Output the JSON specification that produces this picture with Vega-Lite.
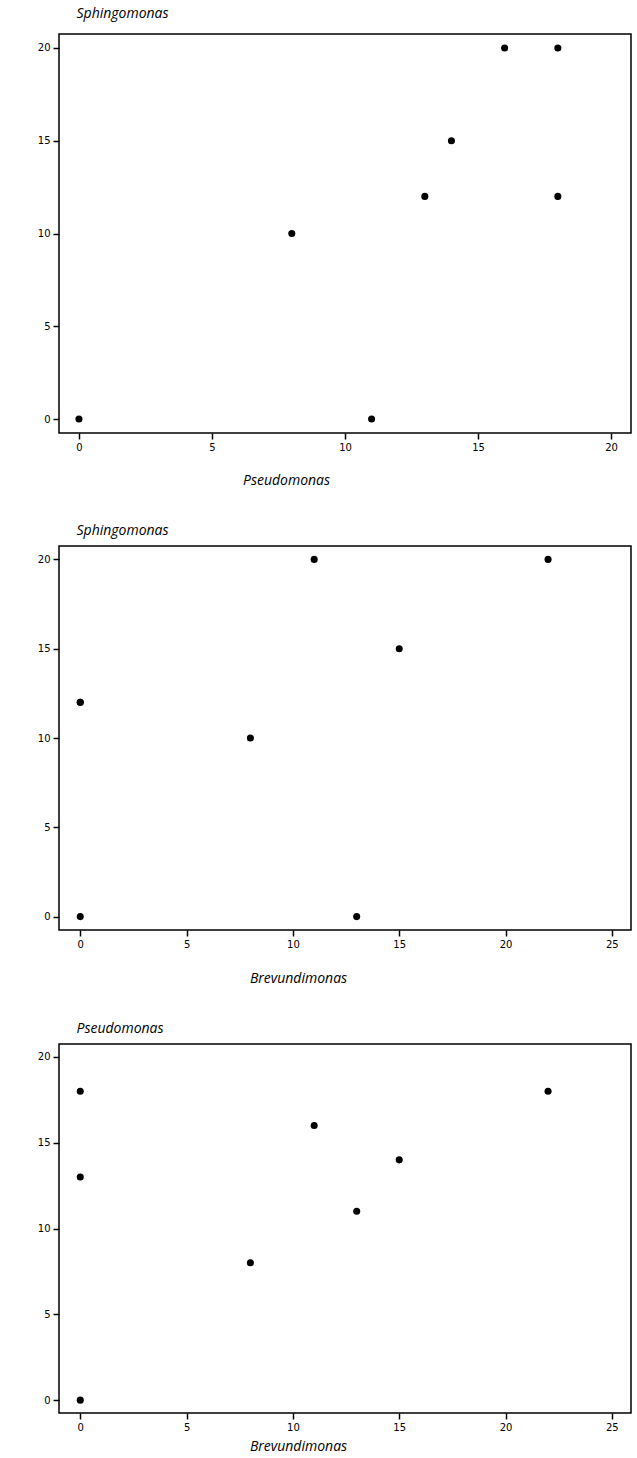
{
  "$schema": "https://vega.github.io/schema/vega-lite/v6.json",
  "background": "white",
  "padding": {"left": 36, "top": 5, "right": 5, "bottom": 5},
  "spacing": 34,
  "data": {"values": [
    {"Brevundimonas": 0, "Pseudomonas": 0, "Sphingomonas": 0},
    {"Brevundimonas": 8, "Pseudomonas": 8, "Sphingomonas": 10},
    {"Brevundimonas": 13, "Pseudomonas": 11, "Sphingomonas": 0},
    {"Brevundimonas": 0, "Pseudomonas": 13, "Sphingomonas": 12},
    {"Brevundimonas": 15, "Pseudomonas": 14, "Sphingomonas": 15},
    {"Brevundimonas": 11, "Pseudomonas": 16, "Sphingomonas": 20},
    {"Brevundimonas": 22, "Pseudomonas": 18, "Sphingomonas": 20},
    {"Brevundimonas": 0, "Pseudomonas": 18, "Sphingomonas": 12}
  ]},
  "config": {
    "view": {"stroke": "black", "strokeWidth": 1.5},
    "axis": {
      "domain": false, "grid": false,
      "tickColor": "black", "tickSize": 6, "tickWidth": 1.5,
      "labelFont": "DejaVu Sans", "labelFontSize": 10, "labelColor": "black", "labelPadding": 3,
      "titleFont": "Open Sans", "titleFontStyle": "italic", "titleFontWeight": "normal",
      "titleFontSize": 14, "titleColor": "black"
    }
  },
  "vconcat": [
    {
      "width": 572, "height": 399,
      "mark": {"type": "point", "filled": true, "shape": "circle", "size": 50, "color": "black", "opacity": 1},
      "encoding": {
        "x": {"field": "Pseudomonas", "type": "quantitative",
              "scale": {"domain": [-0.75, 20.75], "nice": false, "zero": false},
              "axis": {"values": [0, 5, 10, 15, 20], "titleX": 227, "titleY": 47, "titleAlign": "center", "titleBaseline": "middle"}},
        "y": {"field": "Sphingomonas", "type": "quantitative",
              "scale": {"domain": [-0.75, 20.75], "nice": false, "zero": false},
              "axis": {"values": [0, 5, 10, 15, 20], "titleAngle": 0, "titleX": 17, "titleY": -21, "titleAlign": "left", "titleBaseline": "middle"}}
      }
    },
    {
      "width": 572, "height": 384,
      "mark": {"type": "point", "filled": true, "shape": "circle", "size": 50, "color": "black", "opacity": 1},
      "encoding": {
        "x": {"field": "Brevundimonas", "type": "quantitative",
              "scale": {"domain": [-1, 25.9], "nice": false, "zero": false},
              "axis": {"values": [0, 5, 10, 15, 20, 25], "titleX": 239, "titleY": 48, "titleAlign": "center", "titleBaseline": "middle"}},
        "y": {"field": "Sphingomonas", "type": "quantitative",
              "scale": {"domain": [-0.75, 20.75], "nice": false, "zero": false},
              "axis": {"values": [0, 5, 10, 15, 20], "titleAngle": 0, "titleX": 17, "titleY": -16, "titleAlign": "left", "titleBaseline": "middle"}}
      }
    },
    {
      "width": 572, "height": 369,
      "mark": {"type": "point", "filled": true, "shape": "circle", "size": 50, "color": "black", "opacity": 1},
      "encoding": {
        "x": {"field": "Brevundimonas", "type": "quantitative",
              "scale": {"domain": [-1, 25.9], "nice": false, "zero": false},
              "axis": {"values": [0, 5, 10, 15, 20, 25], "titleX": 239, "titleY": 33, "titleAlign": "center", "titleBaseline": "middle"}},
        "y": {"field": "Pseudomonas", "type": "quantitative",
              "scale": {"domain": [-0.75, 20.75], "nice": false, "zero": false},
              "axis": {"values": [0, 5, 10, 15, 20], "titleAngle": 0, "titleX": 17, "titleY": -16, "titleAlign": "left", "titleBaseline": "middle"}}
      }
    }
  ]
}
